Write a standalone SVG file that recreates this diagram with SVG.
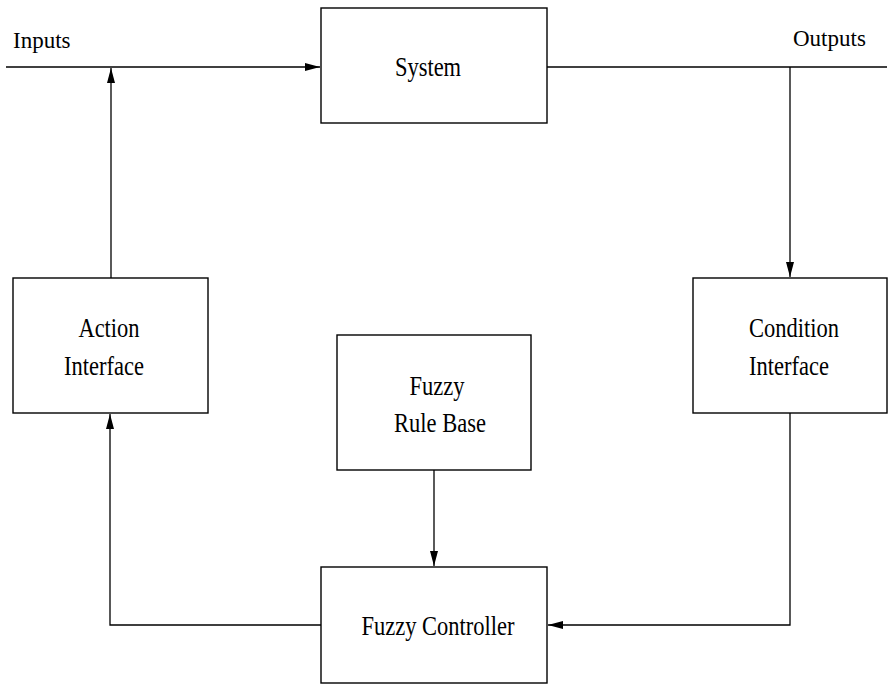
<svg xmlns="http://www.w3.org/2000/svg" width="888" height="684" viewBox="0 0 888 684">
<style>
.box{fill:#fff;stroke:#000;stroke-width:1.4}
.ln{fill:none;stroke:#000;stroke-width:1.3}
.lbl{font-family:"Liberation Serif","Times New Roman",serif;font-size:22.5px;fill:#000;text-anchor:middle}
.top{font-family:"Liberation Serif","Times New Roman",serif;font-size:23px;fill:#000}
</style>
<defs>
<marker id="ah" markerUnits="userSpaceOnUse" markerWidth="16" markerHeight="9" refX="15" refY="4" orient="auto">
<path d="M0,0 L15,4 L0,8 z" fill="#000"/>
</marker>
</defs>
<rect width="888" height="684" fill="#fff"/>
<g id="connectors">
<path class="ln" d="M6,67 H320" marker-end="url(#ah)"/>
<path class="ln" d="M111,278 V68" marker-end="url(#ah)"/>
<path class="ln" d="M547,67 H887"/>
<path class="ln" d="M790,67 V277" marker-end="url(#ah)"/>
<path class="ln" d="M434,470 V566" marker-end="url(#ah)"/>
<path class="ln" d="M321,625 H110 V414" marker-end="url(#ah)"/>
<path class="ln" d="M790,413 V625 H548" marker-end="url(#ah)"/>
</g>
<g id="labels">
<text class="top" x="13" y="48">Inputs</text>
<text class="top" x="793" y="46">Outputs</text>
</g>
<g id="system">
<rect class="box" x="321" y="8" width="226" height="115"/>
<text class="lbl" transform="translate(428,76) scale(1,1.22)">System</text>
</g>
<g id="action-interface">
<rect class="box" x="13" y="278" width="195" height="135"/>
<text class="lbl" transform="translate(109,337) scale(1,1.22)">Action</text>
<text class="lbl" transform="translate(104,375) scale(1,1.22)">Interface</text>
</g>
<g id="condition-interface">
<rect class="box" x="693" y="278" width="194" height="135"/>
<text class="lbl" transform="translate(794,337) scale(1,1.22)">Condition</text>
<text class="lbl" transform="translate(789,375) scale(1,1.22)">Interface</text>
</g>
<g id="fuzzy-rule-base">
<rect class="box" x="337" y="335" width="194" height="135"/>
<text class="lbl" transform="translate(437,395) scale(1,1.22)">Fuzzy</text>
<text class="lbl" transform="translate(440,432) scale(1,1.22)">Rule Base</text>
</g>
<g id="fuzzy-controller">
<rect class="box" x="321" y="567" width="226" height="116"/>
<text class="lbl" transform="translate(438,635) scale(1,1.22)">Fuzzy Controller</text>
</g>
</svg>
